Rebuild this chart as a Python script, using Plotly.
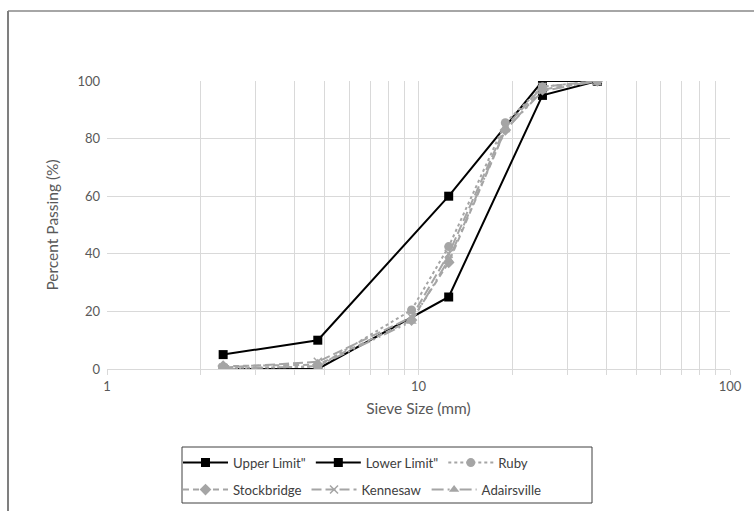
import plotly.graph_objects as go

# Sieve sizes (mm) and percent passing for each aggregate source
sieve_mm = [2.36, 4.75, 9.5, 12.5, 19, 25, 37.5]
limit_sieve_mm = [2.36, 4.75, 12.5, 25, 37.5]
upper_limit = [5, 10, 60, 100, 100]
lower_limit = [0, 0, 25, 95, 100]
ruby = [0.3, 0.8, 20.5, 42.5, 85.5, 98, 100]
stockbridge = [1, 1.5, 17, 37, 83, 97, 100]
kennesaw = [0.5, 2.5, 18, 40, 84, 98, 100]
adairsville = [0, 1, 16.5, 38, 83, 96.5, 100]

x_ticks = [1, 10, 100]
x_minor = [2, 3, 4, 5, 6, 7, 8, 9, 20, 30, 40, 50, 60, 70, 80, 90]
y_ticks = [0, 20, 40, 60, 80, 100]

BLACK = "#000000"
GREY = "#a5a5a5"
FONT = "Lato"

fig = go.Figure()

fig.add_trace(go.Scatter(
    x=limit_sieve_mm, y=upper_limit, name='Upper Limit"', mode="lines+markers",
    line=dict(color=BLACK, width=2), marker=dict(symbol="square", size=9, color=BLACK),
    legend="legend"))
fig.add_trace(go.Scatter(
    x=limit_sieve_mm, y=lower_limit, name='Lower Limit"', mode="lines+markers",
    line=dict(color=BLACK, width=2), marker=dict(symbol="square", size=9, color=BLACK),
    legend="legend"))
fig.add_trace(go.Scatter(
    x=sieve_mm, y=ruby, name="Ruby", mode="lines+markers",
    line=dict(color=GREY, width=2, dash="dot"), marker=dict(symbol="circle", size=9, color=GREY),
    legend="legend"))
fig.add_trace(go.Scatter(
    x=sieve_mm, y=stockbridge, name="Stockbridge", mode="lines+markers",
    line=dict(color=GREY, width=2, dash="6px,4px"), marker=dict(symbol="diamond", size=9, color=GREY),
    legend="legend2"))
fig.add_trace(go.Scatter(
    x=sieve_mm, y=kennesaw, name="Kennesaw", mode="lines+markers",
    line=dict(color=GREY, width=2, dash="10px,4px"), marker=dict(symbol="x-thin", size=8,
    line=dict(color=GREY, width=1.5), color=GREY),
    legend="legend2"))
fig.add_trace(go.Scatter(
    x=sieve_mm, y=adairsville, name="Adairsville", mode="lines+markers",
    line=dict(color=GREY, width=2, dash="12px,4px,2px,4px,2px,4px"),
    marker=dict(symbol="triangle-up", size=9, color=GREY),
    legend="legend2"))

# Outer chart frame (top and left edges) and legend box
frame = [
    dict(type="line", xref="paper", yref="paper", x0=-0.1589, x1=1.1, y0=1.243, y1=1.243,
         line=dict(color="#a6a6a6", width=2)),
    dict(type="line", xref="paper", yref="paper", x0=-0.1589, x1=-0.1589, y0=1.243, y1=-0.6,
         line=dict(color="#7f7f7f", width=2)),
    dict(type="rect", xref="paper", yref="paper", x0=(182 - 107) / 623, x1=(592 - 107) / 623,
         y0=(369 - 503) / 288, y1=(369 - 447) / 288, line=dict(color="#404040", width=1)),
]

legend_common = dict(
    orientation="h", xanchor="left", yanchor="middle", bgcolor="rgba(0,0,0,0)",
    font=dict(family=FONT, size=13.2, color="#404040"), itemwidth=45,
    itemclick=False, itemdoubleclick=False,
)

fig.update_layout(
    width=754, height=511,
    margin=dict(l=107, r=24, t=81, b=142, autoexpand=False),
    paper_bgcolor="white", plot_bgcolor="white",
    font=dict(family=FONT, size=13, color="#595959"),
    shapes=frame,
    legend=dict(x=(178 - 107) / 623, y=(369 - 463) / 288, **legend_common),
    legend2=dict(x=(178 - 107) / 623, y=(369 - 490) / 288, **legend_common),
    xaxis=dict(
        type="log", range=[0, 2], tickvals=x_ticks, ticktext=[str(v) for v in x_ticks],
        showgrid=True, gridcolor="#d9d9d9", gridwidth=1,
        showline=True, linecolor="#d9d9d9", linewidth=1,
        ticks="outside", ticklen=5, tickcolor="#d9d9d9",
        minor=dict(tickvals=x_minor, showgrid=True, gridcolor="#d9d9d9", gridwidth=1,
                   ticks="outside", ticklen=5, tickcolor="#d9d9d9"),
        tickfont=dict(family=FONT, size=13, color="#595959"),
        title=dict(text="Sieve Size (mm)", font=dict(family=FONT, size=15.5, color="#595959"), standoff=10),
        zeroline=False,
    ),
    yaxis=dict(
        range=[0, 100], tickvals=y_ticks, showgrid=True, gridcolor="#d9d9d9", gridwidth=1,
        showline=False, zeroline=False, ticks="", ticklabelstandoff=6,
        tickfont=dict(family=FONT, size=13, color="#595959"),
        title=dict(text="Percent Passing (%)", font=dict(family=FONT, size=15.5, color="#595959"), standoff=14),
    ),
)

fig.write_html("out.html")
